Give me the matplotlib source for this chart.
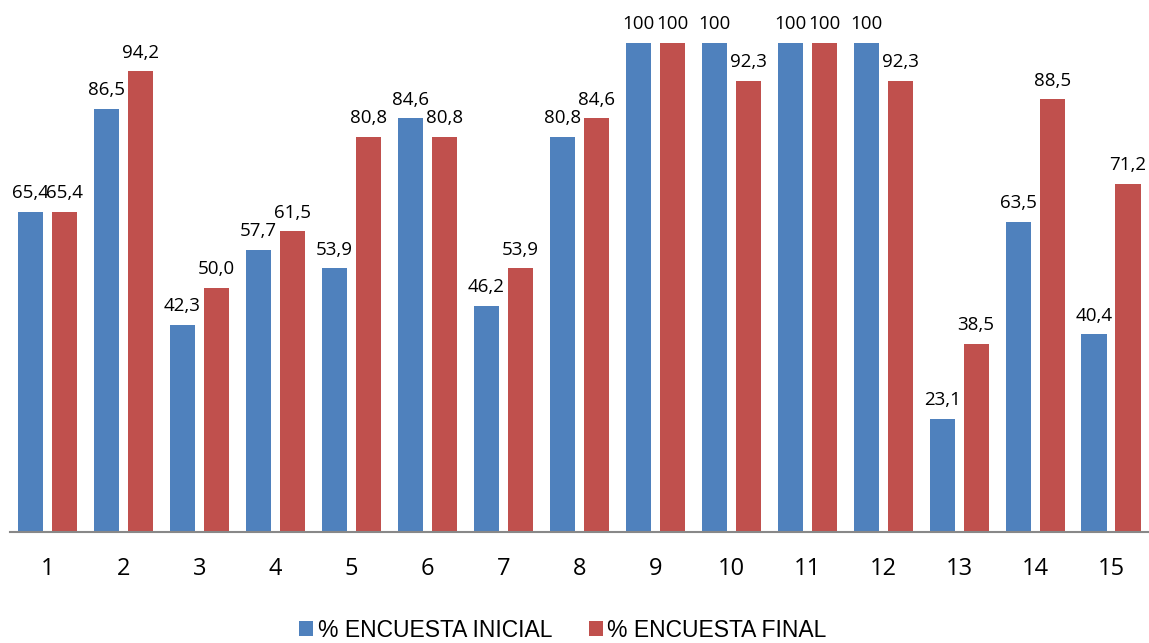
import numpy as np
import matplotlib.pyplot as plt

# data
categorias = [str(i) for i in range(1, 16)]
inicial = [65.4, 86.5, 42.3, 57.7, 53.9, 84.6, 46.2, 80.8, 100, 100, 100, 100, 23.1, 63.5, 40.4]
final = [65.4, 94.2, 50.0, 61.5, 80.8, 80.8, 53.9, 84.6, 100, 92.3, 100, 92.3, 38.5, 88.5, 71.2]
series = ['% ENCUESTA INICIAL', '% ENCUESTA FINAL']

AZUL, ROJO = '#4F81BD', '#C0504D'

def fmt(v):
    return '100' if v == 100 else f'{v:.1f}'.replace('.', ',')

fig = plt.figure(figsize=(11.49, 6.43), dpi=100)
ax = fig.add_axes([0.0083, 0.1726, 0.9917, 0.8274])

x = np.arange(len(categorias))
w = 0.33; off = 0.224
b1 = ax.bar(x - off, inicial, w, color=AZUL, label=series[0])
b2 = ax.bar(x + off, final, w, color=ROJO, label=series[1])

for bars, vals in ((b1, inicial), (b2, final)):
    for b, v in zip(bars, vals):
        ax.annotate(fmt(v), (b.get_x() + b.get_width() / 2, v), xytext=(0, 7),
                    textcoords='offset points', ha='center', va='bottom',
                    fontsize=13.5, family='Open Sans')

ax.set_xlim(-0.5, len(categorias) - 0.5)
ax.set_ylim(0, 108.8)
ax.set_xticks(x)
ax.set_xticklabels(categorias, fontsize=17, family='Open Sans')
ax.tick_params(axis='x', length=0, pad=18)
ax.set_yticks([])
for s in ('top', 'right', 'left'):
    ax.spines[s].set_visible(False)
ax.spines['bottom'].set_color('#888888')
ax.spines['bottom'].set_linewidth(1.5)

fig.legend(handles=[b1, b2], loc='center', bbox_to_anchor=(0.49, 0.02), ncol=2,
           frameon=False, prop={'family': 'Liberation Sans', 'size': 16.5},
           handlelength=0.6, handleheight=0.6, handletextpad=0.2, columnspacing=1.6)

fig.savefig('out.png', dpi=100)
